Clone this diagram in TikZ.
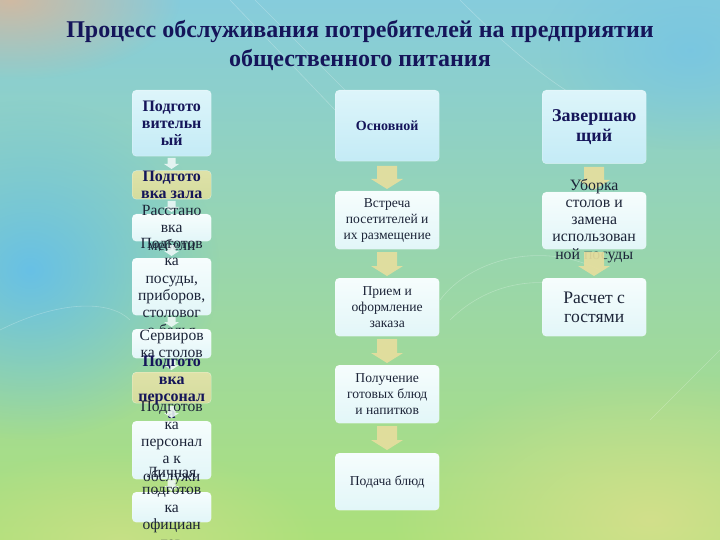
\documentclass[tikz,border=0pt]{standalone}
\usepackage{fontspec}
\setmainfont{Liberation Serif}
\usetikzlibrary{fadings}
\definecolor{navy}{HTML}{15155A}
\definecolor{ink}{HTML}{1C2438}
\definecolor{bgtop}{HTML}{86CCDC}
\definecolor{bgmid}{HTML}{58DAB8}
\definecolor{bgbot}{HTML}{ACE07A}
\definecolor{bgblue}{HTML}{62BEEC}
\definecolor{bgyel}{HTML}{D6E08C}
\definecolor{bgpeach}{HTML}{D8B89C}
\definecolor{hdtop}{HTML}{DDF5FA}
\definecolor{hdbot}{HTML}{C4EBF6}
\definecolor{whtop}{HTML}{F6FDFD}
\definecolor{whbot}{HTML}{E2F6F8}
\definecolor{yeltop}{HTML}{DFE2A8}
\definecolor{yelbot}{HTML}{D4DC9E}
\definecolor{arrowyel}{HTML}{E6DE9E}
\definecolor{arrowwht}{HTML}{F2FAFA}
\tikzfading[name=softblob, inner color=transparent!10, outer color=transparent!100]
\newcommand\myarrow[7]{%
  \fill[#7] (#1-#4,#2) -- (#1+#4,#2) -- (#1+#4,#3-#6) -- (#1+#5,#3-#6) -- (#1,#3)
    -- (#1-#5,#3-#6) -- (#1-#4,#3-#6) -- cycle;}
\tikzset{
  boxbase/.style={rounded corners=4pt, anchor=north west, inner sep=0pt, draw=white, draw opacity=0.5, line width=0.4pt},
  headbox/.style={boxbase, top color=hdtop, bottom color=hdbot},
  whitebox/.style={boxbase, top color=whtop, bottom color=whbot},
  yelbox/.style={boxbase, top color=yeltop, bottom color=yelbot},
  ltxt/.style={align=center, inner sep=0pt, text=ink, font=\fontsize{15.6}{17.4}\selectfont},
  ltxtb/.style={align=center, inner sep=0pt, text=navy, font=\fontsize{16}{17.4}\selectfont\bfseries},
  mtxt/.style={align=center, inner sep=0pt, text=ink, font=\fontsize{13.6}{16}\selectfont},
  mtxtb/.style={align=center, inner sep=0pt, text=navy, font=\fontsize{14}{16}\selectfont\bfseries},
  rtxt/.style={align=center, inner sep=0pt, text=ink, font=\fontsize{15.8}{17.2}\selectfont},
  rtxtb/.style={align=center, inner sep=0pt, text=navy, font=\fontsize{18}{19.7}\selectfont\bfseries},
  rtxtc/.style={align=center, inner sep=0pt, text=ink, font=\fontsize{17.6}{19}\selectfont},
  ttl/.style={align=center, inner sep=0pt, text=navy, font=\fontsize{24}{29}\selectfont\bfseries},
  yarr/.style={fill=arrowyel, opacity=0.92},
  warr/.style={fill=arrowwht, opacity=0.85},
  deco/.style={draw=white, opacity=0.25, line width=0.6pt},
}
\begin{document}
\begin{tikzpicture}[x=1pt,y=-1pt]
\useasboundingbox (0,0) rectangle (720,540);
% background
\shade[top color=bgtop, middle color=bgmid, bottom color=bgbot] (0,0) rectangle (720,540);
\fill[bgblue, path fading=softblob] (30,270) ellipse (190 and 170);
\fill[bgpeach, path fading=softblob] (10,0) ellipse (170 and 80);
\fill[bgyel, path fading=softblob] (650,520) ellipse (260 and 150);
\fill[bgyel!70!bgbot, path fading=softblob] (120,540) ellipse (200 and 90);
\fill[bgblue!40!bgtop, path fading=softblob] (690,50) ellipse (150 and 100);
% decorative faint curves
\draw[deco] (30,540) arc[start angle=200, end angle=120, radius=330];
\draw[deco] (90,540) arc[start angle=190, end angle=128, radius=300];
\draw[deco] (230,0) -- (335,110);
\draw[deco] (255,0) -- (350,95);
\draw[deco] (460,0) .. controls (520,60) and (560,90) .. (600,110);
\draw[deco] (440,300) .. controls (470,260) and (540,240) .. (600,270);
\draw[deco] (450,320) .. controls (490,280) and (550,270) .. (610,300);
\draw[deco] (0,330) .. controls (60,300) and (110,300) .. (130,320);
\draw[deco] (650,420) .. controls (690,380) and (710,360) .. (720,350);
% title
\node[ttl] (title) at (360,45) {Процесс обслуживания потребителей на предприятии\\общественного питания};
% left column
\node[headbox, minimum width=79pt, minimum height=66pt] (l1) at (132,90) {};
\node[ltxtb] (l1t) at (l1.center) {Подгото\\вительн\\ый};
\myarrow{171.5}{158}{169}{4}{7.5}{5}{warr}
\node[yelbox, minimum width=79pt, minimum height=28.5pt] (l2) at (132,170.5) {};
\node[ltxtb] (l2t) at (l2.center) {Подгото\\вка зала};
\myarrow{171.5}{201}{212}{4}{7.5}{5}{warr}
\node[whitebox, minimum width=79pt, minimum height=27pt] (l3) at (132,214) {};
\node[ltxt] (l3t) at (l3.center) {Расстано\\вка\\мебели};
\myarrow{171.5}{245}{256}{4}{7.5}{5}{warr}
\node[whitebox, minimum width=79pt, minimum height=57pt] (l4) at (132,258) {};
\node[ltxt] (l4t) at (l4.center) {Подготов\\ка\\посуды,\\приборов,\\столовог\\о белья};
\myarrow{171.5}{317}{327}{4}{7.5}{5}{warr}
\node[whitebox, minimum width=79pt, minimum height=29pt] (l5) at (132,329) {};
\node[ltxt] (l5t) at (l5.center) {Сервиров\\ка столов};
\myarrow{171.5}{360}{370}{4}{7.5}{5}{warr}
\node[yelbox, minimum width=79pt, minimum height=31pt] (l6) at (132,372) {};
\node[ltxtb] (l6t) at (l6.center) {Подгото\\вка\\персонал\\а};
\myarrow{171.5}{406}{418}{4}{7.5}{5}{warr}
\node[whitebox, minimum width=79pt, minimum height=58pt] (l7) at (132,421) {};
\node[ltxt] (l7t) at (l7.center) {Подготов\\ка\\персонал\\а к\\обслужи\\вание};
\myarrow{171.5}{480}{491}{4}{7.5}{5}{warr}
\node[whitebox, minimum width=79pt, minimum height=30pt] (l8) at (132,492) {};
\node[ltxt] (l8t) at (l8.center) {Личная\\подготов\\ка\\официан\\тов};
% middle column
\node[headbox, minimum width=104pt, minimum height=71pt] (m1) at (335,90) {};
\node[mtxtb] (m1t) at (m1.center) {Основной};
\myarrow{387}{166}{189}{10}{16}{10}{yarr}
\node[whitebox, minimum width=104pt, minimum height=58pt] (m2) at (335,191) {};
\node[mtxt] (m2t) at (m2.center) {Встреча\\посетителей и\\их размещение};
\myarrow{387}{252}{276}{10}{16}{10}{yarr}
\node[whitebox, minimum width=104pt, minimum height=58pt] (m3) at (335,278) {};
\node[mtxt] (m3t) at (m3.center) {Прием и\\оформление\\заказа};
\myarrow{387}{339}{363}{10}{16}{10}{yarr}
\node[whitebox, minimum width=104pt, minimum height=58pt] (m4) at (335,365) {};
\node[mtxt] (m4t) at (m4.center) {Получение\\готовых блюд\\и напитков};
\myarrow{387}{426}{450}{10}{16}{10}{yarr}
\node[whitebox, minimum width=104pt, minimum height=57pt] (m5) at (335,453) {};
\node[mtxt] (m5t) at (m5.center) {Подача блюд};
% right column
\node[headbox, minimum width=104pt, minimum height=73.5pt] (r1) at (542,90) {};
\node[rtxtb] (r1t) at (r1.center) {Завершаю\\щий};
\myarrow{594}{167}{190}{10}{16}{10}{yarr}
\node[whitebox, minimum width=104pt, minimum height=57pt] (r2) at (542,192) {};
\node[rtxt] (r2t) at (r2.center) {Уборка\\столов и\\замена\\использован\\ной посуды};
\myarrow{594}{252}{276}{10}{16}{10}{yarr}
\node[whitebox, minimum width=104pt, minimum height=58pt] (r3) at (542,278) {};
\node[rtxtc] (r3t) at (r3.center) {Расчет с\\гостями};
\end{tikzpicture}
\end{document}
